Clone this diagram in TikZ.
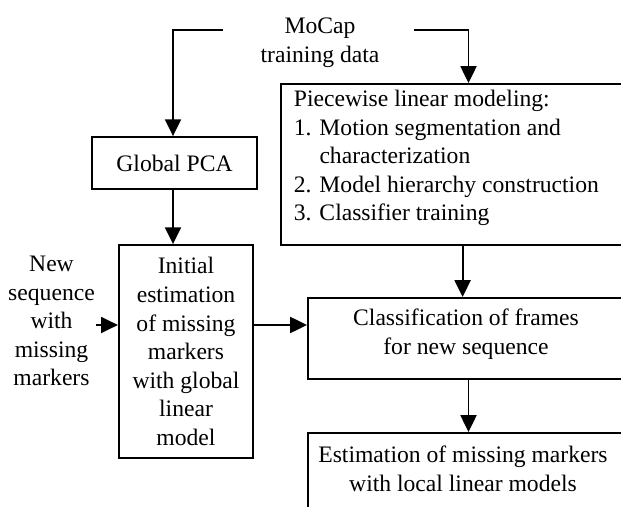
\documentclass[tikz,border=0pt]{standalone}
\usepackage{fontspec}
\setmainfont{Liberation Serif}
\usetikzlibrary{arrows.meta}
\begin{document}
\begin{tikzpicture}[x=0.25mm,y=-0.25mm,line width=1.3pt,
    font=\fontsize{16.8}{20.3}\selectfont,
    box/.style={draw,rectangle,inner sep=0pt},
    txt/.style={inner sep=0pt},
    flow/.style={-{Triangle[length=4.2mm,width=4mm]}}]
    \useasboundingbox (0,0) rectangle (621,507);
    \clip (0,0) rectangle (621,507);
    \node[txt,align=center] (data) at (320,43) {MoCap\\training data};
    \node[box,minimum width=41.25mm,minimum height=13mm] (pca) at (174.5,163) {Global PCA};
    \node[box,minimum width=33.6mm,minimum height=53.25mm,align=center] (init) at (186,351.5)
      {Initial\\estimation\\of missing\\markers\\with global\\linear\\model};
    \node[txt,align=center] (seq) at (51.5,321) {New\\sequence\\with\\missing\\markers};
    \node[box,anchor=north west,minimum width=110mm,minimum height=40.25mm] (piece) at (280,83) {};
    \node[txt,align=left,anchor=west] (piecetxt) at (293,158)
      {Piecewise linear modeling:\\1. Motion segmentation and\\\phantom{1. }characterization\\2. Model hierarchy construction\\3. Classifier training};
    \node[box,anchor=north west,minimum width=110mm,minimum height=20.25mm] (cls) at (307,297) {};
    \node[txt,align=center] (clstxt) at (466,334) {Classification of frames\\for new sequence};
    \node[box,anchor=north west,minimum width=110mm,minimum height=30mm] (est) at (307,432) {};
    \node[txt,align=center] (esttxt) at (463,469) {Estimation of missing markers\\with local linear models};
    \coordinate (left) at (173,30);
    \coordinate (right) at (468.5,30);
    \draw[flow] (223,30) -- (left) -- (pca.north -| left);
    \draw[flow] (414,30) -- (right) -- (piece.north -| right);
    \draw[flow] (pca.south -| left) -- (init.north -| left);
    \draw[flow] (seq.east |- 0,325) -- (init.west |- 0,325);
    \draw[flow] (init.east |- 0,325) -- (cls.west |- 0,325);
    \draw[flow] (piece.south -| 462.6,0) -- (cls.north -| 462.6,0);
    \draw[flow] (cls.south -| right) -- (est.north -| right);
\end{tikzpicture}
\end{document}
